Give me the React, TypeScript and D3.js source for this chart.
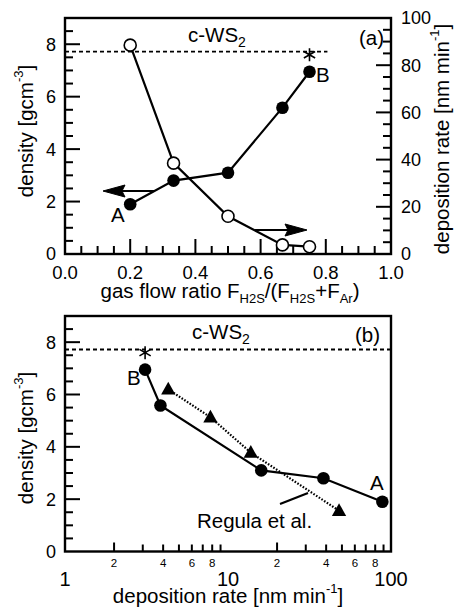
import React from "react";
import * as d3 from "d3";

// ---- data ----
const flowRatio = [0.2, 0.333, 0.5, 0.667, 0.75];
const densityVals = [1.9, 2.8, 3.1, 5.58, 6.95];
const depRate = [88.5, 38.5, 16, 3.85, 3.1];
const regulaRate = [4.3, 7.8, 13.8, 48];
const regulaDensity = [6.2, 5.13, 3.78, 1.56];
const cWS2Density = 7.72;
const starDensity = 7.6;
const starRatio = 0.75;
const starRate = 3.1;
const xTicksA = [0, 0.2, 0.4, 0.6, 0.8, 1.0];
const densityTicks = [0, 2, 4, 6, 8];
const rateTicks = [0, 20, 40, 60, 80, 100];
const logMajor = [1, 10, 100];
const logMinorLabels = [2, 4, 6, 8];

const FONT = "'Liberation Sans', Arial, Helvetica, sans-serif";
const TF = 20.5; // title font
const LF = 18; // tick label font

const PL = 65, PR = 391;
const PA = { top: 18, bottom: 254 };
const PB = { top: 316, bottom: 551.5 };

function steps(n0: number, n1: number) {
  const out: number[] = [];
  for (let k = n0; k <= n1; k++) out.push(k);
  return out;
}

type Seg = { x1: number; y1: number; x2: number; y2: number };

function Star({ x, y, r = 6.5 }: { x: number; y: number; r?: number }) {
  const angs = [90, 30, 150];
  const d = angs.map((a) => {
    const dx = r * Math.cos((a * Math.PI) / 180);
    const dy = r * Math.sin((a * Math.PI) / 180);
    return `M${x - dx},${y - dy}L${x + dx},${y + dy}`;
  }).join("");
  return <path d={d} stroke="#000" strokeWidth={1.6} fill="none" />;
}

function Arrow({ x1, x2, y }: { x1: number; x2: number; y: number }) {
  const dir = Math.sign(x2 - x1);
  const hl = 22, hw = 6;
  const base = x2 - dir * hl;
  return (
    <g>
      <path d={`M${x1},${y}H${base + dir * 3}`} stroke="#000" strokeWidth={2.2} fill="none" />
      <path d={`M${x2},${y} L${base},${y - hw} L${base + dir * 3},${y} L${base},${y + hw} Z`} fill="#000" stroke="#000" strokeWidth={1} />
    </g>
  );
}

function densityTickSegs(y: (v: number) => number): Seg[] {
  return steps(1, 17).map((k) => {
    const yy = y(k * 0.5);
    return { x1: PL, y1: yy, x2: PL + (k % 4 === 0 ? 15 : 8), y2: yy };
  });
}

export default function App() {
  const xA = d3.scaleLinear().domain([0, 1]).range([PL, PR]);
  const yA = d3.scaleLinear().domain([0, 9]).range([PA.bottom, PA.top]);
  const yR = d3.scaleLinear().domain([0, 100]).range([PA.bottom, PA.top]);
  const xB = d3.scaleLog().domain([1, 100]).range([PL, PR]);
  const yB = d3.scaleLinear().domain([0, 9]).range([PB.bottom, PB.top]);

  const densPts = flowRatio.map((f, i) => [xA(f), yA(densityVals[i])] as [number, number]);
  const ratePts = flowRatio.map((f, i) => [xA(f), yR(depRate[i])] as [number, number]);
  const bPts = depRate.map((r, i) => [xB(r), yB(densityVals[i])] as [number, number]);
  const regPts = regulaRate.map((r, i) => [xB(r), yB(regulaDensity[i])] as [number, number]);
  const lineGen = d3.line();

  const logTicks: number[] = [];
  [1, 10].forEach((dd) => { for (let k = 2; k <= 9; k++) logTicks.push(k * dd); });

  const segs: Seg[] = [
    ...densityTickSegs(yA),
    ...densityTickSegs(yB),
    ...steps(1, 19).map((k) => ({ x1: xA(k * 0.05), y1: PA.bottom, x2: xA(k * 0.05), y2: PA.bottom - (k % 4 === 0 ? 15 : 8) })),
    ...steps(1, 19).map((k) => ({ x1: PR, y1: yR(k * 5), x2: PR - (k % 4 === 0 ? 15 : 8), y2: yR(k * 5) })),
    ...logTicks.map((v) => ({ x1: xB(v), y1: PB.bottom, x2: xB(v), y2: PB.bottom - (v === 10 ? 15 : v === 2 || v === 20 ? 9 : 7) })),
  ];

  const tri = (x: number, y: number, s = 7.5) => `M${x},${y - s} L${x + s * 0.95},${y + s * 0.7} L${x - s * 0.95},${y + s * 0.7} Z`;

  return (
    <svg width={460} height={610} style={{ position: "absolute", left: 0, top: 0, fontFamily: FONT }}>
      <rect width={460} height={610} fill="#fff" />
      <g stroke="#000" strokeWidth={2}>
        {segs.map((s, i) => <line key={"tk" + i} x1={s.x1} y1={s.y1} x2={s.x2} y2={s.y2} />)}
      </g>
      <rect x={PL} y={PA.top} width={PR - PL} height={PA.bottom - PA.top} fill="none" stroke="#000" strokeWidth={2.4} />
      <rect x={PL} y={PB.top} width={PR - PL} height={PB.bottom - PB.top} fill="none" stroke="#000" strokeWidth={2.4} />

      {/* ===== Panel (a) ===== */}
      {xTicksA.map((v) => (
        <text key={"xa" + v} x={xA(v)} y={279} textAnchor="middle" fontSize={LF + 0.5}>{v.toFixed(1)}</text>
      ))}
      <text x={230} y={298} textAnchor="middle" fontSize={TF}>
        gas flow ratio F<tspan dy={5} fontSize={13}>H2S</tspan><tspan dy={-5}>/(F</tspan>
        <tspan dy={5} fontSize={13}>H2S</tspan><tspan dy={-5}>+F</tspan>
        <tspan dy={5} fontSize={13}>Ar</tspan><tspan dy={-5}>)</tspan>
      </text>
      {densityTicks.map((v) => (
        <text key={"da" + v} x={56} y={yA(v)} dy="0.36em" textAnchor="end" fontSize={LF}>{v}</text>
      ))}
      <text transform={`translate(33,131) rotate(-90)`} textAnchor="middle" fontSize={TF}>
        density [gcm<tspan dy={-10} fontSize={13}>-3</tspan><tspan dy={10}>]</tspan>
      </text>
      {rateTicks.map((v) => (
        <text key={"r" + v} x={401} y={yR(v)} dy="0.36em" textAnchor="start" fontSize={LF}>{v}</text>
      ))}
      <text transform={`translate(449,139) rotate(-90)`} textAnchor="middle" fontSize={TF}>
        deposition rate [nm min<tspan dy={-10} fontSize={13}>-1</tspan><tspan dy={10}>]</tspan>
      </text>
      <path d={`M${PL},${yA(cWS2Density)}H${xA(0.805)}`} stroke="#000" strokeWidth={1.8} strokeDasharray="4,3" fill="none" />
      <text x={188} y={42} fontSize={TF}>c-WS<tspan dy={5} fontSize={14}>2</tspan></text>
      <text x={359} y={45} fontSize={TF}>(a)</text>
      <path d={lineGen(ratePts) || ""} fill="none" stroke="#000" strokeWidth={2.2} />
      <path d={lineGen(densPts) || ""} fill="none" stroke="#000" strokeWidth={2.2} />
      {ratePts.map(([x, y], i) => <circle key={"o" + i} cx={x} cy={y} r={6} fill="#fff" stroke="#000" strokeWidth={1.6} />)}
      {densPts.map(([x, y], i) => <circle key={"f" + i} cx={x} cy={y} r={6.3} fill="#000" />)}
      <Star x={xA(starRatio)} y={yA(starDensity)} />
      <Arrow x1={155} x2={103} y={191} />
      <Arrow x1={255} x2={307} y={230} />
      <text x={111} y={222} fontSize={TF}>A</text>
      <text x={316} y={82} fontSize={TF}>B</text>

      {/* ===== Panel (b) ===== */}
      {[1, 10].flatMap((dd) => logMinorLabels.map((k) => (
        <text key={`m${dd}-${k}`} x={xB(k * dd)} y={567} textAnchor="middle" fontSize={11.5}>{k}</text>
      )))}
      {logMajor.map((v) => (
        <text key={"lm" + v} x={xB(v)} y={586} textAnchor="middle" fontSize={20}>{v}</text>
      ))}
      <text x={228} y={603} textAnchor="middle" fontSize={TF}>
        deposition rate [nm min<tspan dy={-10} fontSize={13}>-1</tspan><tspan dy={10}>]</tspan>
      </text>
      {densityTicks.map((v) => (
        <text key={"db" + v} x={56} y={yB(v)} dy="0.36em" textAnchor="end" fontSize={LF}>{v}</text>
      ))}
      <text transform={`translate(33,438) rotate(-90)`} textAnchor="middle" fontSize={TF}>
        density [gcm<tspan dy={-10} fontSize={13}>-3</tspan><tspan dy={10}>]</tspan>
      </text>
      <path d={`M${PL},${yB(cWS2Density)}H${PR}`} stroke="#000" strokeWidth={1.8} strokeDasharray="4,3" fill="none" />
      <text x={192} y={339} fontSize={TF}>c-WS<tspan dy={5} fontSize={14}>2</tspan></text>
      <text x={355} y={342} fontSize={TF}>(b)</text>
      <path d={lineGen(regPts) || ""} fill="none" stroke="#000" strokeWidth={2.2} strokeDasharray="1.6,1.6" />
      <path d={lineGen(bPts) || ""} fill="none" stroke="#000" strokeWidth={2.2} />
      {regPts.map(([x, y], i) => <path key={"t" + i} d={tri(x, y)} fill="#000" />)}
      {bPts.map(([x, y], i) => <circle key={"b" + i} cx={x} cy={y} r={6.3} fill="#000" />)}
      <Star x={xB(starRate)} y={yB(starDensity)} />
      <path d="M280,504L308,493" stroke="#000" strokeWidth={2.2} fill="none" />
      <text x={197} y={528} fontSize={TF}>Regula et al.</text>
      <text x={127} y={385} fontSize={TF}>B</text>
      <text x={370} y={490} fontSize={TF}>A</text>
    </svg>
  );
}
